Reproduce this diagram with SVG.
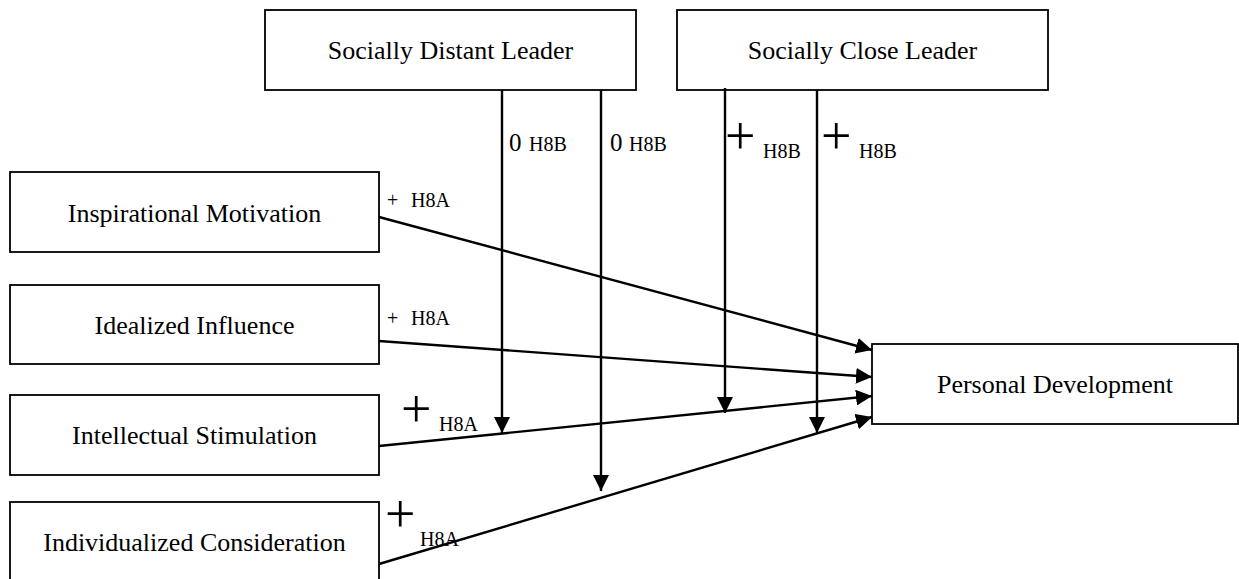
<svg xmlns="http://www.w3.org/2000/svg" width="1239" height="579" viewBox="0 0 1239 579" font-family="Liberation Serif, DejaVu Serif, serif">
<defs>
<marker id="ah" markerUnits="userSpaceOnUse" markerWidth="16" markerHeight="16" refX="16" refY="8" orient="auto">
<path d="M0,0 L16,8 L0,16 z" fill="#000"/>
</marker>
<style>
.box{fill:#fff;stroke:#000;stroke-width:1.8}
.lbl{font-size:26px;text-anchor:middle;fill:#000}
.conn{stroke:#000;stroke-width:2.4;fill:none;marker-end:url(#ah)}
.h{font-size:20px;fill:#000}
.z{font-size:25px;fill:#000}
.bp{font-size:54px;fill:#000}
</style>
</defs>
<rect width="1239" height="579" fill="#fff"/>
<g id="node-distant"><rect class="box" x="265" y="10" width="371" height="80"/><text class="lbl" x="450.5" y="59">Socially Distant Leader</text></g>
<g id="node-close"><rect class="box" x="677" y="10" width="371" height="80"/><text class="lbl" x="862.5" y="59">Socially Close Leader</text></g>
<g id="node-im"><rect class="box" x="10" y="172" width="369" height="80"/><text class="lbl" x="194.5" y="222">Inspirational Motivation</text></g>
<g id="node-ii"><rect class="box" x="10" y="285" width="369" height="79"/><text class="lbl" x="194.5" y="334">Idealized Influence</text></g>
<g id="node-is"><rect class="box" x="10" y="395" width="369" height="80"/><text class="lbl" x="194.5" y="444">Intellectual Stimulation</text></g>
<g id="node-ic"><rect class="box" x="10" y="502" width="369" height="90"/><text class="lbl" x="194.5" y="551">Individualized Consideration</text></g>
<g id="node-pd"><rect class="box" x="872" y="344" width="366" height="80"/><text class="lbl" x="1055" y="393">Personal Development</text></g>
<g id="connectors">
<line class="conn" x1="379" y1="217" x2="872" y2="350"/>
<line class="conn" x1="379" y1="341" x2="872" y2="377"/>
<line class="conn" x1="379" y1="446" x2="872" y2="396"/>
<line class="conn" x1="379" y1="564" x2="872" y2="417"/>
<line class="conn" x1="502" y1="90" x2="502" y2="433"/>
<line class="conn" x1="601" y1="90" x2="601" y2="491"/>
<line class="conn" x1="725" y1="88" x2="725" y2="413"/>
<line class="conn" x1="817" y1="90" x2="817" y2="433"/>
</g>
<g id="labels">
<text class="z" x="509" y="151">0</text><text class="h" x="529" y="151">H8B</text>
<text class="z" x="610" y="151">0</text><text class="h" x="629" y="151">H8B</text>
<text class="bp" x="725" y="154">+</text><text class="h" x="763" y="158">H8B</text>
<text class="bp" x="821" y="154">+</text><text class="h" x="859" y="158">H8B</text>
<text class="h" x="387" y="207">+</text><text class="h" x="411" y="207">H8A</text>
<text class="h" x="387" y="325">+</text><text class="h" x="411" y="325">H8A</text>
<text class="bp" x="401" y="427">+</text><text class="h" x="439" y="431">H8A</text>
<text class="bp" x="385" y="532">+</text><text class="h" x="420" y="546">H8A</text>
</g>
</svg>
